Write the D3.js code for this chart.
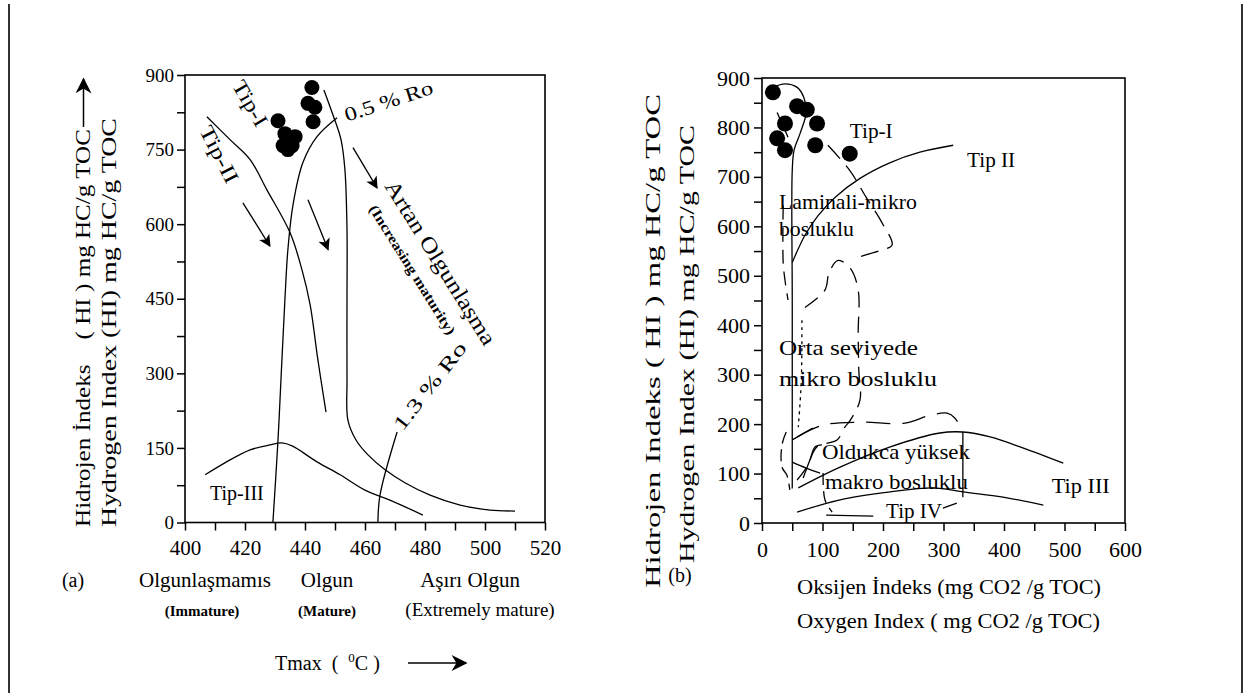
<!DOCTYPE html>
<html>
<head>
<meta charset="utf-8">
<script src="https://cdn.jsdelivr.net/npm/d3@7"></script>
<style>
  body { margin: 0; background: #fff; }
  svg { display: block; }
  text { font-family: "Liberation Serif", "Times New Roman", serif; fill: #000; }
</style>
</head>
<body>
<svg id="chart" width="1256" height="693"></svg>
<script>
// ---------- (a) Tmax vs HI ----------
const tmaxLabels = [400, 420, 440, 460, 480, 500, 520];
const hiLabelsA = [0, 150, 300, 450, 600, 750, 900];

const sampleTmax = [431, 442.3, 441, 443.3, 442.7, 433.3, 436.7, 432.7, 435.7, 434.3];
const sampleHiA = [808, 875, 843, 835, 806, 782, 776, 758, 758, 750];

const tip1Tmax = [446.3, 449.3, 452, 453.3, 454, 454, 454, 454.3, 457, 461, 466.7, 473.3, 481.7, 491.7, 501.7, 510];
const tip1Hi = [870, 820, 770, 710, 589, 448, 287, 206, 166, 136, 106, 80, 55, 35, 25, 23];
const tip2Tmax = [407.3, 415, 421.7, 427.3, 435, 439, 441.7, 444.3, 447];
const tip2Hi = [816, 770, 730, 669, 583, 508, 438, 327, 222];
const tip3Tmax = [406.7, 413.3, 421.7, 428.3, 432.3, 435.7, 444, 451.7, 460, 468.3, 479.3];
const tip3Hi = [96, 120, 146, 156, 160, 154, 122, 96, 65, 45, 15];
const ro05Tmax = [450.7, 444, 439.3, 436, 434.3, 433.3, 432.3, 431, 429.3];
const ro05Hi = [814, 776, 724, 639, 549, 448, 327, 166, 0];
const ro13Tmax = [470.7, 465, 464.3];
const ro13Hi = [182, 55, 0];

// maturity arrows [from, to] in Tmax/HI
const maturityArrows = [
  [[419.3, 643], [428.3, 556]],
  [[441, 649], [447.7, 549]],
  [[456, 754], [464, 673]]
];

// ---------- (b) OI vs HI ----------
const oiLabels = [0, 100, 200, 300, 400, 500, 600];
const hiLabelsB = [0, 100, 200, 300, 400, 500, 600, 700, 800, 900];

const sampleOI = [18, 58, 74, 38, 91, 25, 38, 88, 145];
const sampleHiB = [871, 843, 836, 808, 808, 778, 754, 764, 747];

const tip1OI = [18, 38, 58, 69, 73, 63, 53, 50, 50, 50];
const tip1HiB = [881, 888, 881, 861, 830, 788, 754, 713, 451, 70];
const tip2OI = [316, 261, 212, 162, 121, 93, 71, 55, 50];
const tip2HiB = [764, 750, 729, 697, 659, 622, 582, 541, 527];
const tip3OI = [60, 129, 212, 294, 332, 377, 431, 498];
const tip3HiB = [71, 113, 154, 182, 184, 174, 152, 121];
const tip4OI = [58, 129, 212, 283, 332, 405, 465];
const tip4HiB = [22, 47, 63, 71, 63, 51, 36];

// pore-type outlines, [OI, HI]
const laminaliEdge = [[109, 764], [145, 713], [172, 659], [198, 608], [215, 562], [198, 552], [150, 535]];
const ortaEdge = [[71, 436], [104, 471], [111, 507], [126, 531], [146, 515], [159, 471], [159, 384], [160, 309], [162, 249], [146, 208], [137, 194], [124, 168], [91, 154], [74, 113], [58, 87]];
const leftEdgeTop = [[35, 642], [35, 527], [38, 491], [43, 451]];
const leftEdgeLow = [[40, 184], [33, 158], [33, 113], [41, 97], [46, 67]];
const dottedEdge = [[66, 410], [65, 289], [60, 194]];
const makroTop = [[58, 174], [101, 198], [162, 204], [236, 202], [278, 218], [306, 222], [319, 212], [332, 184]];
const makroLeft = [[101, 101], [104, 47], [116, 22]];
const bottomDash = [[106, 16], [184, 14]];
const smallDash = [[299, 30], [322, 40]];
const boxSide = [[332, 184], [332, 52]];
const nearDots = [[25, 830], [43, 780]];
const lowSolidA = [[50, 168], [84, 192]];
const lowSolidB = [[68, 91], [79, 127], [88, 154], [99, 158]];
const lowSolidC = [[50, 123], [73, 111], [96, 101]];

const svg = d3.select("#chart");

const defs = svg.append("defs");
defs.append("marker").attr("id", "head").attr("viewBox", "0 0 10 10")
  .attr("refX", 9).attr("refY", 5).attr("markerUnits", "userSpaceOnUse")
  .attr("markerWidth", 14).attr("markerHeight", 12).attr("orient", "auto")
  .append("path").attr("d", "M0,0 L10,5 L0,10 L2.5,5 z").attr("fill", "#000");
defs.append("marker").attr("id", "bighead").attr("viewBox", "0 0 10 10")
  .attr("refX", 9).attr("refY", 5).attr("markerUnits", "userSpaceOnUse")
  .attr("markerWidth", 20).attr("markerHeight", 16).attr("orient", "auto")
  .append("path").attr("d", "M0,0 L10,5 L0,10 L3,5 z").attr("fill", "#000");

// page border lines
svg.append("line").attr("x1", 9).attr("x2", 9).attr("y1", 4).attr("y2", 693).attr("stroke", "#333").attr("stroke-width", 2);
svg.append("line").attr("x1", 1242).attr("x2", 1242).attr("y1", 4).attr("y2", 693).attr("stroke", "#333").attr("stroke-width", 2);

function addText(g, x, y, str, size, opts = {}) {
  const t = g.append("text")
    .attr("transform", `translate(${x},${y}) rotate(${opts.rotate || 0})`)
    .attr("font-size", size)
    .attr("text-anchor", opts.anchor || "start")
    .style("white-space", "pre")
    .text(str);
  if (opts.bold) t.attr("font-weight", "bold");
  if (opts.len) t.attr("textLength", opts.len).attr("lengthAdjust", opts.adjust || "spacingAndGlyphs");
  return t;
}

function drawAxes(g, x, y, xMinor, yMinor, xLabels, yLabels, fsX, fsY, padX, padY) {
  g.append("rect")
    .attr("x", x.range()[0]).attr("y", y.range()[1])
    .attr("width", x.range()[1] - x.range()[0]).attr("height", y.range()[0] - y.range()[1])
    .attr("fill", "none").attr("stroke", "#000").attr("stroke-width", 1.6);

  g.append("g").attr("transform", `translate(0,${y.range()[0]})`)
    .call(d3.axisBottom(x).tickValues(xMinor).tickSize(8).tickPadding(padX).tickSizeOuter(0)
      .tickFormat(d => xLabels.includes(d) ? d : ""))
    .call(a => a.select(".domain").remove())
    .attr("font-family", "'Liberation Sans', Arial, sans-serif").attr("font-size", fsX)
    .call(a => a.selectAll("line").attr("stroke-width", 1.5))
    .call(a => a.selectAll("text").attr("fill", "#000"));

  g.append("g").attr("transform", `translate(${x.range()[0]},0)`)
    .call(d3.axisLeft(y).tickValues(yMinor).tickSize(8).tickPadding(padY).tickSizeOuter(0)
      .tickFormat(d => yLabels.includes(d) ? d : ""))
    .call(a => a.select(".domain").remove())
    .attr("font-family", "'Liberation Sans', Arial, sans-serif").attr("font-size", fsY)
    .call(a => a.selectAll("line").attr("stroke-width", 1.5))
    .call(a => a.selectAll("text").attr("fill", "#000"));
}

// ================= panel (a) =================
const xA = d3.scaleLinear().domain([400, 520]).range([185, 545]);
const yA = d3.scaleLinear().domain([0, 900]).range([522.5, 75]);
const gA = svg.append("g");

drawAxes(gA, xA, yA, d3.range(400, 521, 10), d3.range(0, 901, 75), tmaxLabels, hiLabelsA, 21, 19, 10, 3);

const lineA = d3.line().x(d => xA(d[0])).y(d => yA(d[1])).curve(d3.curveCatmullRom.alpha(0.5));
[[tip1Tmax, tip1Hi], [tip2Tmax, tip2Hi], [tip3Tmax, tip3Hi], [ro05Tmax, ro05Hi], [ro13Tmax, ro13Hi]]
  .forEach(([xs, ys]) => {
    gA.append("path").attr("d", lineA(d3.zip(xs, ys)))
      .attr("fill", "none").attr("stroke", "#000").attr("stroke-width", 1.3);
  });

gA.selectAll("line.arrow").data(maturityArrows).enter().append("line")
  .attr("class", "arrow")
  .attr("x1", d => xA(d[0][0])).attr("y1", d => yA(d[0][1]))
  .attr("x2", d => xA(d[1][0])).attr("y2", d => yA(d[1][1]))
  .attr("stroke", "#000").attr("stroke-width", 1.3).attr("marker-end", "url(#head)");

gA.selectAll("circle").data(d3.zip(sampleTmax, sampleHiA)).enter().append("circle")
  .attr("cx", d => xA(d[0])).attr("cy", d => yA(d[1])).attr("r", 7.5).attr("fill", "#000");

addText(gA, xA(419.7), yA(836), "Tip-I", 21, { rotate: 60, anchor: "middle", len: 50 });
addText(gA, xA(409.3), yA(734), "Tip-II", 21, { rotate: 63, anchor: "middle", len: 62 });
addText(gA, xA(417.3), yA(45), "Tip-III", 20, { anchor: "middle" });
addText(gA, xA(454), yA(806), "0.5 % Ro", 20, { rotate: -18, len: 92 });
addText(gA, xA(472.5), yA(182), "1.3 % Ro", 20, { rotate: -52, len: 106 });
addText(gA, xA(466.3), yA(677), "Artan Olgunlaşma", 22, { rotate: 58, len: 190 });
addText(gA, xA(461.2), yA(631), "(Increasing maturity)", 14, { rotate: 58, len: 150, bold: true });

// y title (a)
addText(svg, 90, 527, "Hidrojen İndeks    ( HI ) mg HC/g TOC", 21, { rotate: -90, len: 398 });
svg.append("line").attr("x1", 83.5).attr("x2", 83.5).attr("y1", 127).attr("y2", 79)
  .attr("stroke", "#000").attr("stroke-width", 1.5).attr("marker-end", "url(#bighead)");
addText(svg, 116, 527, "Hydrogen Index (HI) mg HC/g TOC", 21, { rotate: -90, len: 409 });

// x captions (a)
addText(svg, 73, 587, "(a)", 20, { anchor: "middle" });
addText(svg, 205, 587, "Olgunlaşmamıs", 21, { anchor: "middle" });
addText(svg, 327, 587, "Olgun", 21, { anchor: "middle" });
addText(svg, 470, 587, "Aşırı Olgun", 21, { anchor: "middle" });
addText(svg, 202, 616, "(Immature)", 15, { anchor: "middle", bold: true });
addText(svg, 327, 616, "(Mature)", 15, { anchor: "middle", bold: true });
addText(svg, 480, 616, "(Extremely mature)", 19, { anchor: "middle" });

const tmaxT = svg.append("text").attr("x", 275).attr("y", 670).attr("font-size", 20).style("white-space", "pre");
tmaxT.append("tspan").text("Tmax  (  ");
tmaxT.append("tspan").attr("font-size", 13).attr("dy", -8).text("0");
tmaxT.append("tspan").attr("dy", 8).text("C )");
svg.append("line").attr("x1", 408).attr("x2", 466).attr("y1", 663).attr("y2", 663)
  .attr("stroke", "#000").attr("stroke-width", 1.5).attr("marker-end", "url(#bighead)");

// ================= panel (b) =================
const xB = d3.scaleLinear().domain([0, 600]).range([762, 1125]);
const yB = d3.scaleLinear().domain([0, 900]).range([523, 78]);
const gB = svg.append("g");

drawAxes(gB, xB, yB, d3.range(0, 601, 50), d3.range(0, 901, 50), oiLabels, hiLabelsB, 22, 22, 10, 4);

const lineB = d3.line().x(d => xB(d[0])).y(d => yB(d[1])).curve(d3.curveCatmullRom.alpha(0.5));
[[tip1OI, tip1HiB], [tip2OI, tip2HiB], [tip3OI, tip3HiB], [tip4OI, tip4HiB]].forEach(([xs, ys]) => {
  gB.append("path").attr("d", lineB(d3.zip(xs, ys)))
    .attr("fill", "none").attr("stroke", "#000").attr("stroke-width", 1.3);
});

const outlines = [
  [laminaliEdge, "18,9"], [ortaEdge, "16,9"], [leftEdgeTop, "14,8"], [leftEdgeLow, "12,6"],
  [dottedEdge, "3,4"], [makroTop, "24,12"], [makroLeft, "12,6"], [bottomDash, null],
  [smallDash, null], [boxSide, null], [nearDots, null], [lowSolidA, null], [lowSolidB, null], [lowSolidC, null]
];
outlines.forEach(([pts, dash]) => {
  const p = gB.append("path").attr("d", lineB(pts))
    .attr("fill", "none").attr("stroke", "#000").attr("stroke-width", 1.3);
  if (dash) p.attr("stroke-dasharray", dash);
});

gB.selectAll("circle").data(d3.zip(sampleOI, sampleHiB)).enter().append("circle")
  .attr("cx", d => xB(d[0])).attr("cy", d => yB(d[1])).attr("r", 8).attr("fill", "#000");

addText(gB, xB(145), yB(778), "Tip-I", 21, { len: 43 });
addText(gB, xB(339), yB(721), "Tip II", 21, { len: 48 });
addText(gB, xB(479), yB(61), "Tip III", 21, { len: 58 });
addText(gB, xB(205), yB(10), "Tip IV", 21, { len: 56 });
addText(gB, xB(28), yB(636), "Laminali-mikro", 21, { len: 138 });
addText(gB, xB(28), yB(580), "bosluklu", 21, { len: 75 });
addText(gB, xB(28), yB(339), "Orta seviyede", 22, { len: 139 });
addText(gB, xB(28), yB(277), "mikro bosluklu", 22, { len: 158 });
addText(gB, xB(99), yB(129), "Oldukca yüksek", 21, { len: 148 });
addText(gB, xB(104), yB(69), "makro bosluklu", 21, { len: 143 });

// y title (b)
addText(svg, 660, 588, "Hidrojen Indeks ( HI ) mg HC/g TOC", 21, { rotate: -90, len: 494 });
addText(svg, 694, 563, "Hydrogen Index (HI) mg HC/g TOC", 21, { rotate: -90, len: 438 });

// x captions (b)
addText(svg, 680, 582, "(b)", 20, { anchor: "middle" });
addText(svg, 797, 594, "Oksijen İndeks (mg CO2 /g TOC)", 20, { len: 304 });
addText(svg, 797, 628, "Oxygen Index ( mg CO2 /g TOC)", 20, { len: 303 });
</script>
</body>
</html>
